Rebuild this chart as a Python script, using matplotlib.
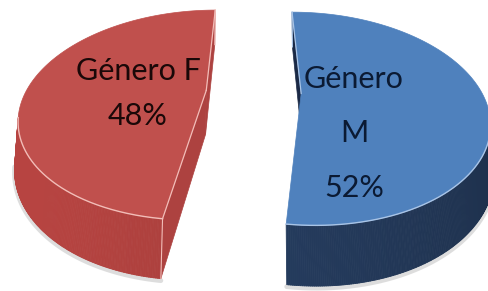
import numpy as np
import matplotlib
matplotlib.use('Agg')
import matplotlib.pyplot as plt
from matplotlib.patches import Polygon
from matplotlib.collections import PolyCollection

# ---- data ----
categories = ['Género M', 'Género F']
values = [52, 48]
wrap_label = [True, False]

# ---- style ----
top_colors = ['#4F81BD', '#C0504D']
band_colors = [(0.13, 0.21, 0.33), (0.62, 0.23, 0.22)]
cut_colors = [(0.10, 0.16, 0.27), (0.68, 0.26, 0.25)]
edge_colors = ['#A9C4E6', '#F2BDB8']
text_colors = ['#0B1A33', '#1A0808']
text_x = [354, 138]
text_base = [[88, 142, 197], [80, 125]]

# ---- camera / layout (perspective, pie radius = 1) ----
X0, YC, FOC, H = 255.83, -544.09, 734.28, 2.2541
XP, YP, ROT, THICK = -0.02078, 4.8912, -0.1794, 0.2007
PITCH = np.deg2rad(-16.154)
explode = [0.2717, 0.2554]
LIGHT = np.array([-0.857, -0.514])

def proj(X, Y, z=0.0):
    D = Y * np.cos(PITCH) + (H + z) * np.sin(PITCH)
    U = Y * np.sin(PITCH) - (H + z) * np.cos(PITCH)
    return X0 + FOC * X / D, YC - FOC * U / D

fig = plt.figure(figsize=(4.89, 2.91), dpi=100)
ax = fig.add_axes([0, 0, 1, 1])
ax.set_xlim(0, 489)
ax.set_ylim(291, 0)
ax.axis('off')

total = float(sum(values))
cum = np.deg2rad(90 - ROT)
for i, v in enumerate(values):
    t2 = cum
    t1 = cum - 2 * np.pi * v / total
    cum = t1
    bis = 0.5 * (t1 + t2)
    cx, cy = XP + explode[i] * np.cos(bis), YP + explode[i] * np.sin(bis)
    phi = np.linspace(t1, t2, 400)
    aX, aY = cx + np.cos(phi), cy + np.sin(phi)
    tx, ty = proj(aX, aY)
    bx, by = proj(aX, aY, THICK)
    ctx, cty = proj(cx, cy)

    vis = (np.cos(phi) * (-aX) + np.sin(phi) * (-aY)) > 0
    # soft shadow under band
    ax.plot(bx[vis], by[vis] + 2, color='#bdbdbd', lw=3.5, alpha=0.5,
            solid_capstyle='round', zorder=1)

    # outer band (visible part), shaded by normal
    quads, cols = [], []
    base = np.array(band_colors[i])
    for k in range(len(phi) - 1):
        if vis[k] and vis[k + 1]:
            quads.append([(tx[k], ty[k]), (tx[k + 1], ty[k + 1]),
                          (bx[k + 1], by[k + 1]), (bx[k], by[k])])
            n = np.array([np.cos(phi[k]), np.sin(phi[k])])
            fac = 1.0 + 0.16 * float(n @ LIGHT)
            cols.append(tuple(np.clip(base * fac, 0, 1)))
    if quads:
        ax.add_collection(PolyCollection(quads, facecolors=cols, edgecolors=cols,
                                         linewidths=0.6, zorder=2))

    # radial cut faces
    cut_edges = []
    for tipx, tipy, nang in [(aX[0], aY[0], t1 - np.pi / 2),
                             (aX[-1], aY[-1], t2 + np.pi / 2)]:
        mx, my = 0.5 * (cx + tipx), 0.5 * (cy + tipy)
        if np.cos(nang) * (-mx) + np.sin(nang) * (-my) > 0:
            p1 = proj(cx, cy); p2 = proj(tipx, tipy)
            p3 = proj(tipx, tipy, THICK); p4 = proj(cx, cy, THICK)
            ax.add_patch(Polygon([p1, p2, p3, p4], closed=True, fc=cut_colors[i],
                                 ec=cut_colors[i], lw=0.5, zorder=3))
            cut_edges.append((p1, p2, p3, p4))

    # top face
    poly = [(ctx, cty)] + list(zip(tx, ty))
    ax.add_patch(Polygon(poly, closed=True, fc=top_colors[i], ec=top_colors[i],
                         lw=0.5, zorder=4))

    # highlight edges
    ax.plot(np.where(vis, tx, np.nan), np.where(vis, ty, np.nan),
            color=edge_colors[i], lw=1.0, zorder=5)
    for p1, p2, p3, p4 in cut_edges:
        ax.plot([p1[0], p2[0]], [p1[1], p2[1]], color=edge_colors[i], lw=0.9, zorder=5)
        ax.plot([p2[0], p3[0]], [p2[1], p3[1]], color=edge_colors[i], lw=0.8, zorder=5)

    # labels
    pct = '%d%%' % round(100 * v / total)
    lines = (categories[i].split(' ') if wrap_label[i] else [categories[i]]) + [pct]
    for line, yb in zip(lines, text_base[i]):
        ax.text(text_x[i], yb, line, ha='center', va='baseline', fontsize=22,
                family=['Lato', 'DejaVu Sans'], color=text_colors[i], zorder=6)

fig.savefig('out.png', dpi=100)
